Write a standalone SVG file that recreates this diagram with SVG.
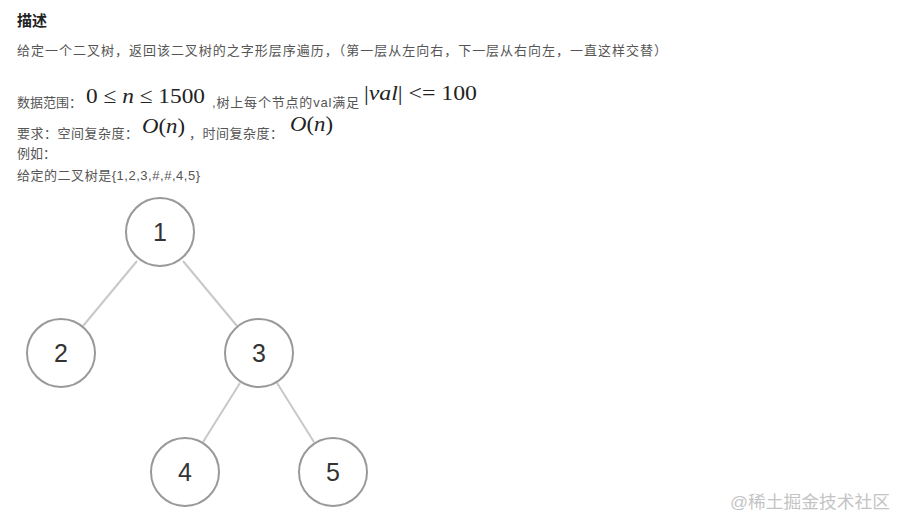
<svg xmlns="http://www.w3.org/2000/svg" width="908" height="529" viewBox="0 0 908 529">
<style>
.t{font-family:"Liberation Sans","Noto Sans CJK SC",sans-serif;font-size:13px;fill:#555}
.m{font-family:"Liberation Serif","DejaVu Serif",serif;font-size:22px;fill:#222}
.i{font-style:italic}
.n circle{fill:#fff;stroke:#999;stroke-width:2}
.n text{font-family:"Liberation Sans","Noto Sans",sans-serif;font-size:25px;fill:#333;text-anchor:middle}
.e line{stroke:#c8c8c8;stroke-width:2}
</style>
<rect width="908" height="529" fill="#fff"/>
<text x="17" y="26" style="font-family:'Liberation Sans','Noto Sans CJK SC',sans-serif;font-size:15px;font-weight:bold;fill:#222">描述</text>
<text class="t" x="17" y="55" textLength="650" lengthAdjust="spacing">给定一个二叉树，返回该二叉树的之字形层序遍历，（第一层从左向右，下一层从右向左，一直这样交替）</text>
<text class="t" x="17" y="107">数据范围：</text>
<text class="m" x="86" y="103" textLength="119" lengthAdjust="spacingAndGlyphs">0 ≤ <tspan class="i">n</tspan> ≤ 1500</text>
<text class="t" x="212" y="107" textLength="147" lengthAdjust="spacing">,树上每个节点的val满足</text>
<text class="m" x="364" y="100" textLength="113" lengthAdjust="spacingAndGlyphs">|<tspan class="i">val</tspan>| &lt;= 100</text>
<text class="t" x="17" y="138" textLength="121" lengthAdjust="spacing">要求：空间复杂度：</text>
<text class="m" x="142" y="133" textLength="43" lengthAdjust="spacingAndGlyphs"><tspan class="i">O</tspan>(<tspan class="i">n</tspan>)</text>
<text class="t" x="189" y="138" textLength="94" lengthAdjust="spacing">，时间复杂度：</text>
<text class="m" x="290" y="131" textLength="43" lengthAdjust="spacingAndGlyphs"><tspan class="i">O</tspan>(<tspan class="i">n</tspan>)</text>
<text class="t" x="17" y="158">例如：</text>
<text class="t" x="17" y="180" textLength="183" lengthAdjust="spacing">给定的二叉树是{1,2,3,#,#,4,5}</text>
<g class="e" id="edges">
<line x1="137" y1="261" x2="83" y2="326"/>
<line x1="183" y1="261" x2="237" y2="326"/>
<line x1="240" y1="383" x2="203" y2="442"/>
<line x1="277" y1="383" x2="314" y2="442"/>
</g>
<g class="n" id="n1"><circle cx="160" cy="232" r="34"/><text x="160" y="241">1</text></g>
<g class="n" id="n2"><circle cx="61" cy="353" r="34"/><text x="61" y="362">2</text></g>
<g class="n" id="n3"><circle cx="259" cy="353" r="34"/><text x="259" y="362">3</text></g>
<g class="n" id="n4"><circle cx="185" cy="472" r="34"/><text x="185" y="481">4</text></g>
<g class="n" id="n5"><circle cx="333" cy="472" r="34"/><text x="333" y="481">5</text></g>
<text x="730" y="508" textLength="160" lengthAdjust="spacingAndGlyphs" style="font-family:'Liberation Sans','Noto Sans CJK SC',sans-serif;font-size:17px;fill:#c4c4c4">@稀土掘金技术社区</text>
</svg>
